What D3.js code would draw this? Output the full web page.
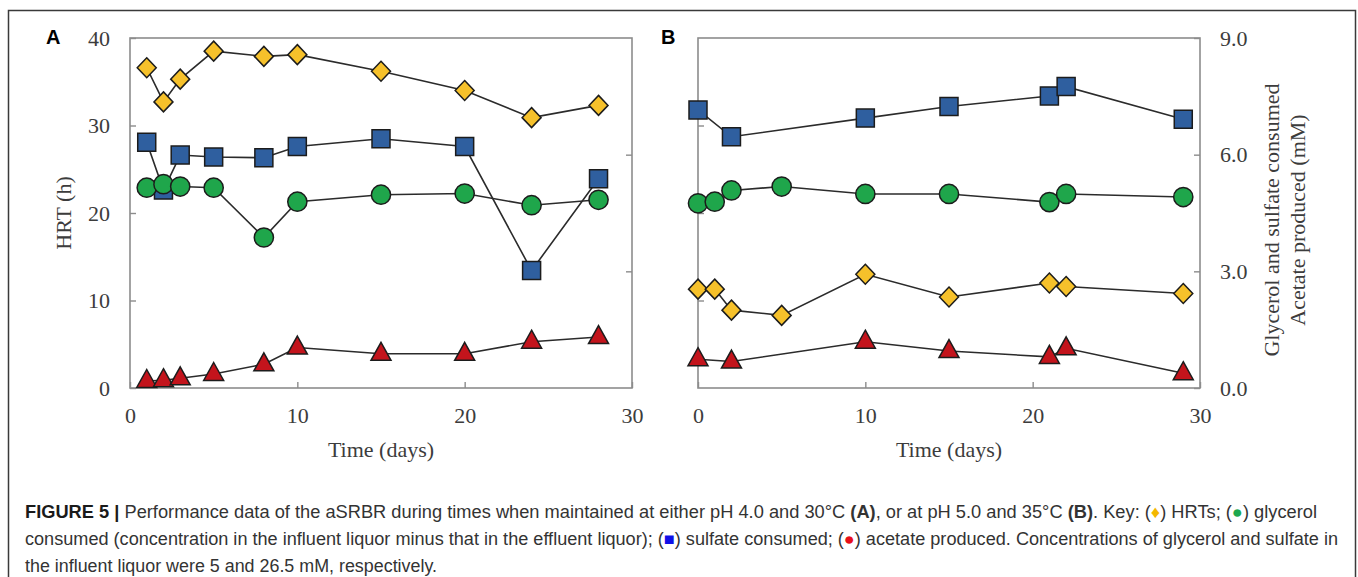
<!DOCTYPE html>
<html>
<head>
<meta charset="utf-8">
<script src="https://cdn.jsdelivr.net/npm/d3@7"></script>
<style>
  body { margin: 0; background: #fff; }
  svg { display: block; }
</style>
</head>
<body>
<svg id="fig" width="1358" height="577"></svg>
<script>
// ---- data ----
// panel A: pH 4.0, 30 C
const daysA = [1, 2, 3, 5, 8, 10, 15, 20, 24, 28];
const hrtA = [36.6, 32.7, 35.3, 38.5, 37.9, 38.1, 36.2, 34.0, 30.9, 32.3];        // h
const sulfateA = [6.32, 5.09, 5.99, 5.94, 5.92, 6.21, 6.41, 6.21, 3.02, 5.38];    // mM
const glycerolA = [5.15, 5.24, 5.18, 5.15, 3.87, 4.79, 4.97, 5.00, 4.70, 4.84];   // mM
const acetateA = [0.18, 0.20, 0.25, 0.36, 0.61, 1.04, 0.88, 0.88, 1.19, 1.31];    // mM

// panel B: pH 5.0, 35 C
const daysB = [0, 1, 2, 5, 10, 15, 21, 22, 29];
const hrtB = [11.3, 11.3, 8.9, 8.3, 13.0, 10.4, 12.0, 11.6, 10.8];               // h
const glycerolB = [4.75, 4.79, 5.08, 5.18, 4.99, 4.99, 4.78, 4.99, 4.91];         // mM
const daysB2 = [0, 2, 10, 15, 21, 22, 29];
const sulfateB = [7.15, 6.46, 6.94, 7.24, 7.51, 7.75, 6.91];                      // mM
const acetateB = [0.74, 0.68, 1.19, 0.95, 0.80, 1.02, 0.38];                      // mM

const timeTicks = [0, 10, 20, 30];
const hrtTicks = [0, 10, 20, 30, 40];
const mMTicks = [0, 3, 6, 9];

// ---- layout ----
const svg = d3.select("#fig");
svg.append("rect").attr("width", 1358).attr("height", 577).attr("fill", "#fff");

// outer figure border (runs off the bottom)
svg.append("path")
  .attr("d", "M8.5,600 V10.5 H1355.5 V600")
  .attr("fill", "none").attr("stroke", "#3a3a3a").attr("stroke-width", 1.5);

const serif = "'Liberation Serif', 'Times New Roman', serif";
const sans = "'Liberation Sans', Arial, Helvetica, sans-serif";
const plotTop = 38, plotBottom = 388, plotW = 502;

const markers = {
  diamond: { fill: "#f6c12b", path: "M0,-10 L9.5,0 L0,10 L-9.5,0 Z" },
  square: { fill: "#2f5f9f", path: "M-9,-9 H9 V9 H-9 Z" },
  circle: { fill: "#1fa64b", path: d3.symbol(d3.symbolCircle, Math.PI * 9.6 * 9.6)() },
  triangle: { fill: "#c3141c", path: "M0,-11.5 L10,6.5 L-10,6.5 Z" }
};

function drawPanel(x0, opts) {
  const g = svg.append("g");
  const x = d3.scaleLinear().domain([0, 30]).range([x0, x0 + plotW]);
  const yH = d3.scaleLinear().domain([0, 40]).range([plotBottom, plotTop]);
  const yM = d3.scaleLinear().domain([0, 9]).range([plotBottom, plotTop]);

  g.append("rect")
    .attr("x", x0).attr("y", plotTop)
    .attr("width", plotW).attr("height", plotBottom - plotTop)
    .attr("fill", "none").attr("stroke", "#8c8c8c").attr("stroke-width", 1.6);

  const styleAxis = sel => {
    sel.select(".domain").remove();
    sel.selectAll("line").attr("stroke", "#8c8c8c").attr("stroke-width", 1.4);
    sel.selectAll("text")
      .attr("fill", "#3c3c3c")
      .style("font-family", serif).style("font-size", "22px");
  };

  // bottom axis
  g.append("g").attr("transform", `translate(0,${plotBottom})`)
    .call(d3.axisBottom(x).tickValues(timeTicks).tickSize(-6).tickPadding(19))
    .call(styleAxis);

  // left axis (HRT)
  const left = d3.axisLeft(yH).tickValues(opts.leftLabels ? hrtTicks : [10, 20, 30])
    .tickSize(-6).tickPadding(20);
  if (!opts.leftLabels) left.tickFormat("");
  g.append("g").attr("transform", `translate(${x0},0)`).call(left).call(styleAxis);

  // right axis (mM)
  const right = d3.axisRight(yM).tickValues(opts.rightLabels ? mMTicks : [3, 6])
    .tickSize(-6).tickPadding(20).tickFormat(opts.rightLabels ? d3.format(".1f") : "");
  g.append("g").attr("transform", `translate(${x0 + plotW},0)`).call(right).call(styleAxis);

  // series: line then markers
  opts.series.forEach(s => {
    const pts = s.days.map((d, i) => [x(d), s.scale === "h" ? yH(s.values[i]) : yM(s.values[i])]);
    g.append("path")
      .attr("d", d3.line()(pts))
      .attr("fill", "none").attr("stroke", "#2b2b2b").attr("stroke-width", 1.6);
    const m = markers[s.marker];
    g.selectAll(null).data(pts).join("path")
      .attr("transform", p => `translate(${p[0]},${p[1]})`)
      .attr("d", m.path)
      .attr("fill", m.fill)
      .attr("stroke", "#1c1c1c").attr("stroke-width", 1.5);
  });

  // x title
  g.append("text")
    .attr("x", x0 + plotW / 2).attr("y", 457)
    .attr("text-anchor", "middle")
    .attr("fill", "#3c3c3c")
    .style("font-family", serif).style("font-size", "22px")
    .text("Time (days)");

  // panel letter
  g.append("text")
    .attr("x", opts.letterX).attr("y", 44)
    .attr("fill", "#000")
    .style("font-family", sans).style("font-size", "20px").style("font-weight", "bold")
    .text(opts.letter);
  return g;
}

drawPanel(130, {
  letter: "A", letterX: 46, leftLabels: true, rightLabels: false,
  series: [
    { days: daysA, values: acetateA, scale: "mM", marker: "triangle" },
    { days: daysA, values: sulfateA, scale: "mM", marker: "square" },
    { days: daysA, values: glycerolA, scale: "mM", marker: "circle" },
    { days: daysA, values: hrtA, scale: "h", marker: "diamond" }
  ]
});

drawPanel(698, {
  letter: "B", letterX: 661, leftLabels: false, rightLabels: true,
  series: [
    { days: daysB2, values: acetateB, scale: "mM", marker: "triangle" },
    { days: daysB2, values: sulfateB, scale: "mM", marker: "square" },
    { days: daysB, values: glycerolB, scale: "mM", marker: "circle" },
    { days: daysB, values: hrtB, scale: "h", marker: "diamond" }
  ]
});

// y titles
svg.append("text")
  .attr("transform", "translate(71,213) rotate(-90)")
  .attr("text-anchor", "middle")
  .attr("fill", "#3c3c3c")
  .style("font-family", serif).style("font-size", "22px")
  .text("HRT (h)");

const rt = svg.append("text")
  .attr("transform", "translate(1279,220) rotate(-90)")
  .attr("text-anchor", "middle")
  .attr("fill", "#3c3c3c")
  .style("font-family", serif).style("font-size", "22px");
rt.append("tspan").attr("x", 0).attr("dy", 0).text("Glycerol and sulfate consumed");
rt.append("tspan").attr("x", 0).attr("dy", 26).text("Acetate produced (mM)");

// ---- caption ----
const capLines = [
  [
    { t: "FIGURE 5 | ", b: true, c: "#1a1a1a" },
    { t: "Performance data of the aSRBR during times when maintained at either pH 4.0 and 30°C " },
    { t: "(A)", b: true },
    { t: ", or at pH 5.0 and 35°C " },
    { t: "(B)", b: true },
    { t: ". Key: (" }, { t: "♦", c: "#f4b800" }, { t: ") HRTs; (" },
    { t: "●", c: "#1ea84e" }, { t: ") glycerol" }
  ],
  [
    { t: "consumed (concentration in the influent liquor minus that in the effluent liquor); (" },
    { t: "■", c: "#1010e8" },
    { t: ") sulfate consumed; (" },
    { t: "●", c: "#e8101a" },
    { t: ") acetate produced. Concentrations of glycerol and sulfate in" }
  ],
  [
    { t: "the influent liquor were 5 and 26.5 mM, respectively." }
  ]
];
const capY = [518, 545, 572];
const capWidth = [1292, 1313, 412];
capLines.forEach((line, i) => {
  const t = svg.append("text")
    .attr("x", 25).attr("y", capY[i])
    .attr("fill", "#333")
    .attr("textLength", capWidth[i])
    .attr("lengthAdjust", "spacingAndGlyphs")
    .style("font-family", sans).style("font-size", "17.5px");
  line.forEach(p => {
    t.append("tspan")
      .attr("fill", p.c || "#333")
      .style("font-weight", p.b ? "bold" : "normal")
      .text(p.t);
  });
});
</script>
</body>
</html>
